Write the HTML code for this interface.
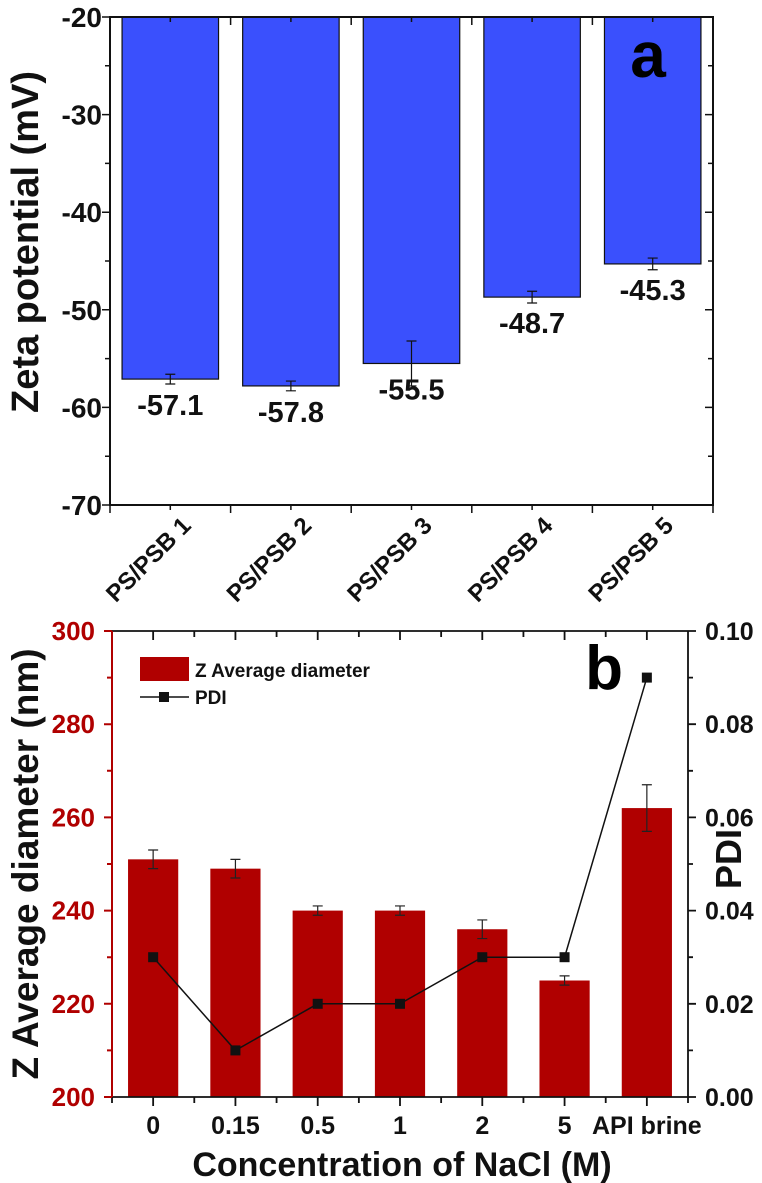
<!DOCTYPE html>
<html><head><meta charset="utf-8"><style>
html,body{margin:0;padding:0;background:#fff}
svg{display:block;font-family:"Liberation Sans",Arial,sans-serif;font-weight:bold}
</style></head><body>
<svg id="chart" width="762" height="1183" viewBox="0 0 762 1183"></svg>
<script>
// Panel a data
const zetaCategories = ["PS/PSB 1","PS/PSB 2","PS/PSB 3","PS/PSB 4","PS/PSB 5"];
const zetaValues = [-57.1,-57.8,-55.5,-48.7,-45.3];
const zetaErrors = [0.5,0.5,2.3,0.6,0.6];
const zetaTicks = [-20,-30,-40,-50,-60,-70];
// Panel b data
const naclCategories = ["0","0.15","0.5","1","2","5","API brine"];
const zAvgValues = [251,249,240,240,236,225,262];
const zAvgErrors = [2,2,1,1,2,1,5];
const pdiValues = [0.03,0.01,0.02,0.02,0.03,0.03,0.09];
const zTicks = [200,220,240,260,280,300];
const pdiTicks = ["0.00","0.02","0.04","0.06","0.08","0.10"];

const NS="http://www.w3.org/2000/svg";
const svg=document.getElementById('chart');
function el(tag,attrs,parent,text){const e=document.createElementNS(NS,tag);for(const k in attrs)e.setAttribute(k,attrs[k]);if(text!==undefined)e.textContent=text;(parent||svg).appendChild(e);return e;}

// ---------- Panel a ----------
const A={l:110,r:713,t:17,b:505,min:-70,max:-20};
const ay=v=>A.b-(v-A.min)/(A.max-A.min)*(A.b-A.t);
const aBand=(A.r-A.l)/zetaCategories.length;
const ax=i=>A.l+aBand*(i+0.5);
const ga=el('g',{});  
zetaValues.forEach((v,i)=>{
  const w=aBand*0.8;
  const r=el('rect',{x:ax(i)-w/2,y:A.t,width:w,height:ay(v)-A.t,fill:'#3a50fd',stroke:'#111','stroke-width':1.2},ga);
   
  const e1=ay(v+zetaErrors[i]),e2=ay(v-zetaErrors[i]);
  const eb=el('path',{d:`M${ax(i)} ${e1}V${e2}M${ax(i)-5} ${e1}H${ax(i)+5}M${ax(i)-5} ${e2}H${ax(i)+5}`,stroke:'#111','stroke-width':1.2,fill:'none'},ga);
   
  const t=el('text',{x:ax(i),y:ay(v)+36,'text-anchor':'middle','font-size':29,fill:'#111'},ga,v.toFixed(1));
   
  const xl=el('text',{x:0,y:0,'text-anchor':'end','font-size':24,fill:'#111',transform:`translate(${ax(i)+22},${A.b+22}) rotate(-45)`},ga,zetaCategories[i]);
   
});
let d='';
for(let v=-70;v<=-20;v+=5){const y=ay(v);const maj=v%10===0;d+=`M${A.l} ${y}H${A.l-(maj?8:5)}M${A.r} ${y}H${A.r-(maj?8:5)}`;}
for(let i=0;i<=zetaCategories.length;i++){const x=A.l+aBand*i;d+=`M${x} ${A.b}V${A.b+8}M${x} ${A.t}V${A.t+8}`;}
zetaCategories.forEach((c,i)=>{d+=`M${ax(i)} ${A.b}V${A.b+5}M${ax(i)} ${A.t}V${A.t+5}`;});
el('path',{d,stroke:'#111','stroke-width':1.5,fill:'none'},ga);
const fa=el('rect',{x:A.l,y:A.t,width:A.r-A.l,height:A.b-A.t,fill:'none',stroke:'#111','stroke-width':2},ga);
 
zetaTicks.forEach(v=>{const t=el('text',{x:102,y:ay(v)+10,'text-anchor':'end','font-size':28,fill:'#111'},ga,v);
   });
const yta=el('text',{x:0,y:0,'text-anchor':'middle','font-size':38,fill:'#111',transform:`translate(38,242) rotate(-90)`},ga,'Zeta potential (mV)');
 
const la=el('text',{x:648,y:77,'text-anchor':'middle','font-size':64,fill:'#000'},ga,'a');
 

// ---------- Panel b ----------
const B={l:112,r:688,t:631,b:1097};
const by=v=>B.b-(v-200)/100*(B.b-B.t);
const py=v=>B.b-v/0.1*(B.b-B.t);
const bBand=(B.r-B.l)/naclCategories.length;
const bx=i=>B.l+bBand*(i+0.5);
const red='#b00000';
const gb=el('g',{});  
zAvgValues.forEach((v,i)=>{
  const w=bBand*0.61;
  const r=el('rect',{x:bx(i)-w/2,y:by(v),width:w,height:B.b-by(v),fill:red},gb);
   
  const e1=by(v+zAvgErrors[i]),e2=by(v-zAvgErrors[i]);
  const eb=el('path',{d:`M${bx(i)} ${e1}V${e2}M${bx(i)-5} ${e1}H${bx(i)+5}M${bx(i)-5} ${e2}H${bx(i)+5}`,stroke:'#222','stroke-width':1.2,fill:'none'},gb);
   
  const t=el('text',{x:bx(i),y:1134,'text-anchor':'middle','font-size':25,fill:'#111'},gb,naclCategories[i]);
   
});
const line=el('polyline',{points:pdiValues.map((v,i)=>`${bx(i)},${py(v)}`).join(' '),fill:'none',stroke:'#111','stroke-width':1.5},gb);
 
pdiValues.forEach((v,i)=>{const m=el('rect',{x:bx(i)-5,y:py(v)-5,width:10,height:10,fill:'#111'},gb);
   });
let dl='',dr='';
for(let v=200;v<=300;v+=10){const y=by(v);dl+=`M${B.l} ${y}H${B.l-(v%20===0?8:5)}`;dr+=`M${B.r} ${y}H${B.r+(v%20===0?8:5)}`;}
for(let i=0;i<=naclCategories.length;i++){const x=B.l+bBand*i;dr+=`M${x} ${B.b}V${B.b+6}M${x} ${B.t}V${B.t+6}`;}
naclCategories.forEach((c,i)=>{dr+=`M${bx(i)} ${B.b}V${B.b+9}M${bx(i)} ${B.t}V${B.t+9}`;});
el('path',{d:`M${B.l} ${B.t}H${B.r}V${B.b}H${B.l}`+dr,stroke:'#111','stroke-width':1.8,fill:'none'},gb);
el('path',{d:`M${B.l} ${B.t}V${B.b}`+dl,stroke:red,'stroke-width':2,fill:'none'},gb);
zTicks.forEach(v=>{const t=el('text',{x:95,y:by(v)+9,'text-anchor':'end','font-size':26,fill:red},gb,v);
   });
pdiTicks.forEach(s=>{const t=el('text',{x:705,y:py(parseFloat(s))+9,'text-anchor':'start','font-size':25,fill:'#111'},gb,s);
   });
const ytl=el('text',{x:0,y:0,'text-anchor':'middle','font-size':37,fill:'#111',transform:`translate(38,864) rotate(-90)`},gb,'Z Average diameter (nm)');
 
const ytr=el('text',{x:0,y:0,'text-anchor':'middle','font-size':36,fill:'#111',transform:`translate(741,859) rotate(-90)`},gb,'PDI');
 
const xt=el('text',{x:402,y:1176,'text-anchor':'middle','font-size':34,fill:'#111'},gb,'Concentration of NaCl (M)');
 
const lb=el('text',{x:604,y:689,'text-anchor':'middle','font-size':62,fill:'#000'},gb,'b');
 
const lg=el('g',{},gb);  
const l1=el('rect',{x:140,y:657,width:49,height:24,fill:red},lg);
 
el('text',{x:195,y:677,'font-size':19,fill:'#111'},lg,'Z Average diameter');
el('path',{d:'M140 697H189',stroke:'#111','stroke-width':1.5},lg);
el('rect',{x:159,y:692,width:10,height:10,fill:'#111'},lg);
el('text',{x:195,y:704,'font-size':19,fill:'#111'},lg,'PDI');
</script>
</body></html>
